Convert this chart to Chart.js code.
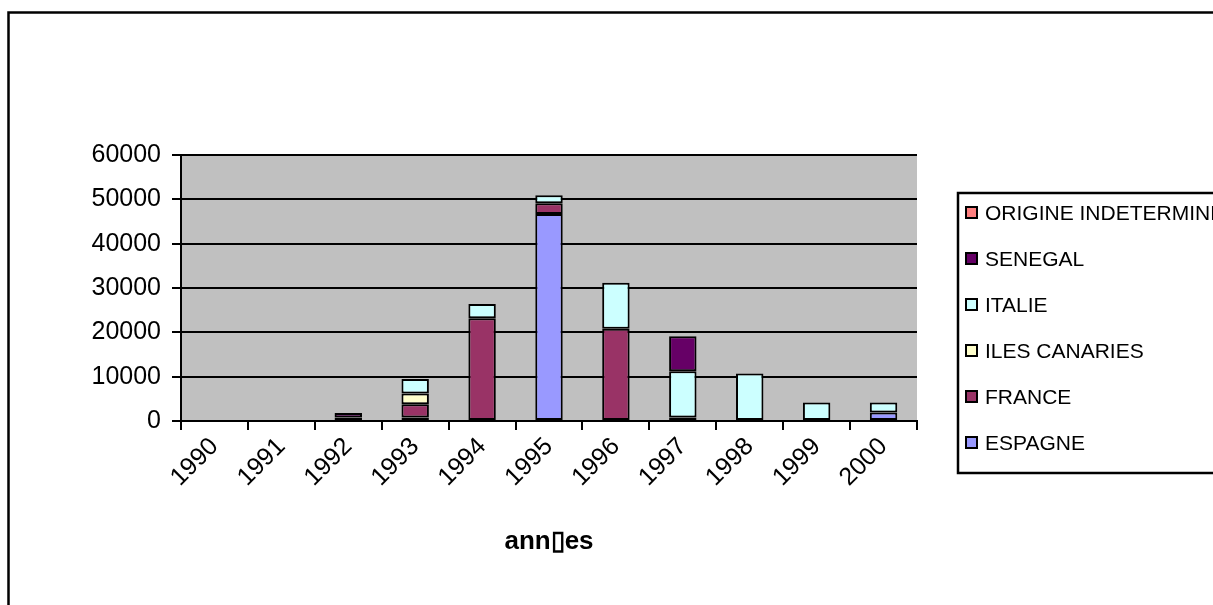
<!DOCTYPE html>
<html>
<head>
<meta charset="utf-8">
<script src="https://cdn.jsdelivr.net/npm/chart.js@4.4.1/dist/chart.umd.min.js"></script>
<style>
  html, body { margin: 0; padding: 0; background: #fff; overflow: hidden; }
  canvas { display: block; }
</style>
</head>
<body>
<canvas id="chart" width="1213" height="605"></canvas>
<script>
// values
const years = ["1990", "1991", "1992", "1993", "1994", "1995", "1996", "1997", "1998", "1999", "2000"];
const espagne = [0, 0, 800, 800, 0, 46700, 0, 0, 0, 0, 1900];
const france = [0, 0, 0, 3000, 23200, 2400, 20800, 800, 0, 0, 0];
const ilesCanaries = [0, 0, 0, 2400, 0, 0, 0, 0, 0, 0, 0];
const italie = [0, 0, 0, 3300, 3200, 1800, 10400, 10400, 10700, 4200, 2300];
const senegal = [0, 0, 1000, 0, 0, 0, 0, 7900, 0, 0, 0];
const origineIndeterminee = [0, 0, 0, 0, 0, 0, 0, 0, 0, 0, 0];
const yTicks = [0, 10000, 20000, 30000, 40000, 50000, 60000];

const FONT = "'Liberation Sans', Arial, sans-serif";

const series = [
  { label: "ESPAGNE", data: espagne, color: "#9999FF" },
  { label: "FRANCE", data: france, color: "#993366" },
  { label: "ILES CANARIES", data: ilesCanaries, color: "#FFFFCC" },
  { label: "ITALIE", data: italie, color: "#CCFFFF" },
  { label: "SENEGAL", data: senegal, color: "#660066" },
  { label: "ORIGINE INDETERMINEE", data: origineIndeterminee, color: "#FF8080" },
];

// gray plot background and outer frame
const backdrop = {
  id: "backdrop",
  beforeDraw(chart) {
    const { ctx, chartArea: a } = chart;
    ctx.save();
    ctx.fillStyle = "#fff";
    ctx.fillRect(0, 0, chart.width, chart.height);
    ctx.fillStyle = "#C0C0C0";
    ctx.fillRect(a.left, a.top, a.right - a.left, a.bottom - a.top);
    ctx.strokeStyle = "#000";
    ctx.lineWidth = 2.5;
    ctx.strokeRect(8.5, 12.5, 1400, 800);
    ctx.restore();
  }
};

// legend box on the right, listed top series first
const sideLegend = {
  id: "sideLegend",
  afterDraw(chart) {
    const ctx = chart.ctx;
    ctx.save();
    ctx.strokeStyle = "#000";
    ctx.lineWidth = 2.5;
    ctx.strokeRect(958, 193, 400, 280);
    ctx.font = "21px " + FONT;
    ctx.textBaseline = "middle";
    const items = series.slice().reverse();
    items.forEach((s, i) => {
      const y = 213 + i * 46;
      ctx.fillStyle = s.color;
      ctx.fillRect(966, y - 6, 11, 11);
      ctx.lineWidth = 2;
      ctx.strokeRect(966, y - 6, 11, 11);
      ctx.fillStyle = "#000";
      ctx.fillText(s.label, 985, y + 1);
    });
    ctx.restore();
  }
};

new Chart(document.getElementById("chart"), {
  type: "bar",
  data: {
    labels: years,
    datasets: series.map(s => ({
      label: s.label,
      // empty segments drawn as nothing, not as a flat border
      data: s.data.map(v => (v === 0 ? null : v)),
      backgroundColor: s.color,
      borderColor: "#000",
      borderWidth: 2,
      borderSkipped: false,
      barPercentage: 0.41,
      categoryPercentage: 1,
    })),
  },
  options: {
    responsive: false,
    animation: false,
    layout: { padding: { left: 0, right: 296, top: 155, bottom: 0 } },
    plugins: {
      legend: { display: false },
      tooltip: { enabled: false },
    },
    scales: {
      x: {
        stacked: true,
        afterFit(scale) { scale.height = 184; },
        grid: {
          offset: true,
          drawOnChartArea: false,
          drawTicks: true,
          tickLength: 9,
          color: "#000",
          lineWidth: 2,
        },
        border: { display: true, color: "#000", width: 2 },
        ticks: {
          color: "#000",
          font: { family: FONT, size: 25 },
          minRotation: 45,
          maxRotation: 45,
          padding: 2,
          autoSkip: false,
        },
        title: {
          display: true,
          text: "ann\u25AFes",
          color: "#000",
          font: { family: FONT, size: 26, weight: "bold" },
          padding: { top: 0, bottom: 48 },
        },
      },
      y: {
        stacked: true,
        min: 0,
        max: 60000,
        afterFit(scale) { scale.width = 181; },
        afterBuildTicks(scale) { scale.ticks = yTicks.map(v => ({ value: v })); },
        grid: {
          color: "#000",
          lineWidth: 2,
          drawTicks: true,
          tickLength: 9,
        },
        border: { display: true, color: "#000", width: 2 },
        ticks: {
          color: "#000",
          font: { family: FONT, size: 25 },
          padding: 11,
          callback: v => String(v),
        },
      },
    },
  },
  plugins: [backdrop, sideLegend],
});
</script>
</body>
</html>
